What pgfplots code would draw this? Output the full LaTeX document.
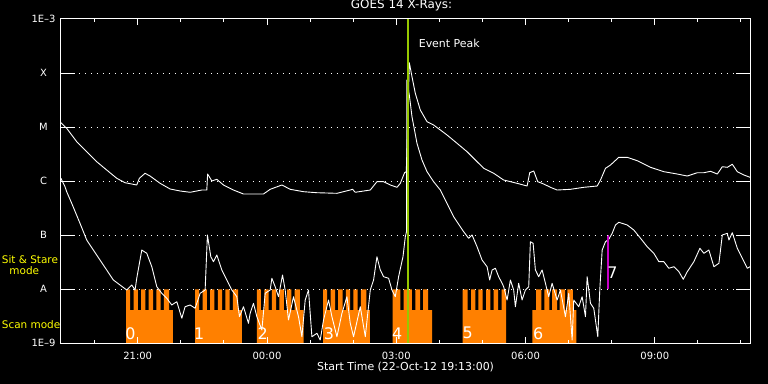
\documentclass[border=0pt]{standalone}
\usepackage{fontspec}
\setmainfont{DejaVu Sans}
\usepackage{pgfplots}
\pgfplotsset{compat=1.18}
\definecolor{scanorange}{RGB}{255,128,0}
\definecolor{peakgreen}{RGB}{150,200,0}
\definecolor{sitmag}{RGB}{200,0,200}
\definecolor{labyellow}{RGB}{255,255,0}
\begin{document}
\begin{tikzpicture}
\fill[black] (-60.9bp,-40.7bp) rectangle (707.1bp,343.3bp);
\begin{axis}[
  at={(0,0)}, anchor=south west,
  scale only axis, width=689.4bp, height=324.3bp,
  xmin=19.2167, xmax=35.2167, ymin=-9, ymax=-3,
  clip=false, axis on top,
  axis line style={white, line width=1bp},
  tick align=inside,
  tick style={white, line width=1bp},
  major tick length=14bp,
  xtick style={/pgfplots/major tick length=6bp},
  minor tick length=3.5bp,
  xtick={21,24,27,30,33},
  xticklabels={21:00,00:00,03:00,06:00,09:00},
  minor xtick={20,22,23,25,26,28,29,31,32,34,35},
  ytick={-9,-8,-7,-6,-5,-4,-3},
  yticklabels={1E--9,A,B,C,M,X,1E--3},
  xticklabel pos=bottom, yticklabel pos=left,
  tick label style={white, font=\fontsize{10}{12}\selectfont},
  xticklabel style={anchor=base, yshift=-15.7bp},
  yticklabel style={anchor=center, xshift=-17.4bp},
  ymajorgrids,
  grid style={white, line width=1bp, dash pattern=on 1bp off 5bp},
  title={GOES 14 X-Rays:},
  title style={white, font=\fontsize{12}{14}\selectfont, at={(axis description cs:0.5,1)}, anchor=base, yshift=5bp, xshift=-4bp},
  xlabel={Start Time (22-Oct-12 19:13:00)},
  xlabel style={white, font=\fontsize{11}{13}\selectfont, at={(axis description cs:0.5,0)}, anchor=base, yshift=-27.5bp},
]
% Scan mode blocks
\addplot[const plot, fill=scanorange, draw=none] coordinates {(20.729,-9)(20.729,-8)(20.822,-8.384)(20.903,-8)(21.003,-8.384)(21.077,-8)(21.177,-8.384)(21.254,-8)(21.356,-8.384)(21.430,-8)(21.530,-8.384)(21.605,-8)(21.728,-8.384)(21.814,-9)};
\addplot[const plot, fill=scanorange, draw=none] coordinates {(22.332,-9)(22.332,-8)(22.425,-8.384)(22.506,-8)(22.606,-8.384)(22.680,-8)(22.780,-8.384)(22.857,-8)(22.959,-8.384)(23.033,-8)(23.133,-8.384)(23.208,-8)(23.331,-8.384)(23.417,-9)};
\addplot[const plot, fill=scanorange, draw=none] coordinates {(23.765,-9)(23.765,-8)(23.858,-8.384)(23.939,-8)(24.039,-8.384)(24.113,-8)(24.213,-8.384)(24.290,-8)(24.392,-8.384)(24.466,-8)(24.566,-8.384)(24.641,-8)(24.764,-8.384)(24.850,-9)};
\addplot[const plot, fill=scanorange, draw=none] coordinates {(25.305,-9)(25.305,-8)(25.398,-8.384)(25.479,-8)(25.579,-8.384)(25.653,-8)(25.753,-8.384)(25.830,-8)(25.932,-8.384)(26.006,-8)(26.106,-8.384)(26.181,-8)(26.304,-8.384)(26.385,-9)};
\addplot[const plot, fill=scanorange, draw=none] coordinates {(26.915,-9)(26.915,-8)(27.094,-8.384)(27.170,-8)(27.365,-8.384)(27.442,-8)(27.551,-8.384)(27.621,-8)(27.737,-8.384)(27.830,-9)};
\addplot[const plot, fill=scanorange, draw=none] coordinates {(28.541,-9)(28.541,-8)(28.657,-8.384)(28.736,-8)(28.836,-8.384)(28.905,-8)(29.005,-8.384)(29.084,-8)(29.184,-8.384)(29.261,-8)(29.363,-8.384)(29.447,-8)(29.549,-9)};
\addplot[const plot, fill=scanorange, draw=none] coordinates {(30.160,-9)(30.160,-8.384)(30.246,-8)(30.369,-8.384)(30.438,-8)(30.555,-8.384)(30.617,-8)(30.733,-8.384)(30.794,-8)(30.920,-8.384)(30.973,-8)(31.096,-8.384)(31.182,-9)};
% Long channel (1-8 A), log10 flux
\addplot[white, line width=0.9bp, line join=round] table {
19.217 -4.919
19.351 -5.022
19.584 -5.270
19.816 -5.455
20.048 -5.640
20.280 -5.794
20.513 -5.947
20.706 -6.029
20.977 -6.071
21.038 -5.947
21.170 -5.855
21.286 -5.905
21.519 -6.040
21.751 -6.145
21.983 -6.182
22.216 -6.206
22.487 -6.164
22.603 -6.164
22.622 -5.868
22.720 -5.997
22.836 -5.966
22.989 -6.071
23.221 -6.164
23.454 -6.238
23.918 -6.238
24.074 -6.151
24.346 -6.071
24.538 -6.151
24.847 -6.195
25.159 -6.214
25.623 -6.225
25.932 -6.164
25.986 -6.151
26.048 -6.206
26.397 -6.164
26.552 -6.010
26.706 -6.010
26.861 -6.071
27.017 -6.114
27.094 -6.040
27.193 -5.844
27.233 -5.825
27.279 -4.499
27.303 -3.809
27.365 -4.068
27.442 -4.375
27.558 -4.684
27.714 -4.900
27.867 -4.961
28.178 -5.146
28.411 -5.300
28.643 -5.455
28.796 -5.577
29.029 -5.762
29.261 -5.855
29.493 -5.979
29.804 -6.040
30.037 -6.090
30.097 -5.844
30.190 -5.812
30.283 -6.010
30.422 -6.053
30.578 -6.114
30.733 -6.164
31.043 -6.151
31.352 -6.114
31.663 -6.090
31.740 -5.979
31.856 -5.762
31.972 -5.701
32.165 -5.559
32.360 -5.559
32.592 -5.622
32.901 -5.744
33.210 -5.825
33.521 -5.868
33.754 -5.905
33.986 -5.844
34.139 -5.844
34.295 -5.818
34.451 -5.868
34.567 -5.733
34.683 -5.744
34.799 -5.688
34.915 -5.825
35.068 -5.886
35.210 -5.929
};
% Short channel (0.5-4 A), log10 flux
\addplot[white, line width=0.9bp, line join=round] table {
19.217 -5.947
19.312 -6.103
19.351 -6.195
19.468 -6.410
19.660 -6.780
19.816 -7.089
19.969 -7.274
20.125 -7.459
20.280 -7.644
20.434 -7.829
20.589 -7.921
20.745 -8.014
20.861 -7.921
20.938 -8.014
20.977 -7.797
21.094 -7.274
21.210 -7.335
21.326 -7.583
21.442 -7.953
21.558 -8.075
21.674 -8.167
21.790 -8.291
21.907 -8.230
22.023 -8.537
22.099 -8.323
22.216 -8.291
22.332 -8.352
22.448 -8.075
22.564 -8.014
22.617 -6.996
22.696 -7.398
22.757 -7.490
22.836 -7.366
22.952 -7.644
23.068 -7.829
23.184 -8.014
23.300 -8.138
23.361 -8.508
23.454 -8.323
23.570 -8.630
23.609 -8.445
23.686 -8.260
23.765 -8.508
23.881 -8.754
23.958 -8.075
24.074 -8.014
24.113 -7.797
24.190 -7.953
24.267 -8.138
24.360 -7.736
24.422 -8.014
24.499 -8.569
24.615 -8.138
24.731 -8.508
24.810 -8.878
24.887 -8.199
24.963 -8.014
25.042 -8.878
25.159 -8.815
25.235 -8.939
25.312 -8.569
25.428 -8.199
25.507 -8.508
25.623 -8.878
25.739 -8.445
25.855 -8.138
25.932 -8.630
26.009 -8.878
26.165 -8.323
26.281 -8.878
26.397 -8.014
26.473 -7.829
26.552 -7.398
26.629 -7.644
26.706 -7.768
26.822 -7.797
26.901 -8.014
26.977 -8.138
27.054 -7.768
27.156 -7.398
27.210 -7.028
27.238 -6.935
27.247 -4.129
27.303 -4.406
27.365 -4.808
27.481 -5.300
27.597 -5.609
27.714 -5.825
27.867 -6.010
28.023 -6.164
28.178 -6.410
28.332 -6.658
28.564 -6.935
28.680 -7.057
28.759 -6.996
28.875 -7.213
28.991 -7.459
29.108 -7.583
29.168 -7.829
29.224 -7.644
29.300 -7.612
29.377 -7.768
29.456 -7.890
29.493 -7.953
29.572 -8.199
29.649 -7.829
29.725 -8.014
29.765 -8.323
29.841 -7.890
29.920 -8.199
29.997 -8.014
30.074 -7.953
30.113 -7.120
30.176 -7.150
30.229 -7.644
30.306 -7.768
30.385 -7.644
30.462 -7.890
30.538 -8.138
30.617 -7.890
30.733 -8.199
30.810 -8.014
30.926 -8.508
31.003 -8.075
31.082 -8.939
31.119 -8.199
31.235 -8.323
31.314 -8.138
31.391 -8.508
31.430 -7.768
31.507 -8.260
31.584 -8.352
31.677 -8.878
31.723 -8.014
31.779 -7.274
31.856 -7.120
31.932 -7.076
32.011 -6.965
32.088 -6.811
32.165 -6.761
32.360 -6.811
32.513 -6.904
32.669 -7.057
32.824 -7.213
32.978 -7.335
33.094 -7.490
33.210 -7.490
33.326 -7.612
33.442 -7.583
33.559 -7.675
33.661 -7.816
33.754 -7.675
33.907 -7.490
34.047 -7.242
34.139 -7.335
34.255 -7.274
34.372 -7.583
34.488 -7.520
34.567 -6.996
34.683 -6.965
34.720 -7.089
34.799 -6.954
34.915 -7.242
35.032 -7.427
35.148 -7.612
35.210 -7.583
};
% Sit & Stare marker and event peak
\addplot[sitmag, line width=1.5bp] coordinates {(31.909,-7) (31.909,-8)};
\addplot[peakgreen, line width=2bp] coordinates {(27.273,-9) (27.273,-3)};
% labels
\begin{scope}[every node/.style={white, inner sep=0pt, font=\fontsize{16}{16}\selectfont}]
\node at (axis cs:20.829,-8.815) {0};
\node at (axis cs:22.425,-8.815) {1};
\node at (axis cs:23.900,-8.815) {2};
\node at (axis cs:25.438,-8.815) {3};
\node at (axis cs:27.024,-8.815) {4};
\node at (axis cs:28.655,-8.815) {5};
\node at (axis cs:30.295,-8.815) {6};
\node at (axis cs:32.019,-7.700) {7};
\end{scope}
\node[white, inner sep=0pt, anchor=base west, font=\fontsize{11}{13}\selectfont] at (axis cs:27.519,-3.524) {Event Peak};
\begin{scope}[every node/.style={labyellow, inner sep=0pt, font=\fontsize{10.5}{12}\selectfont}]
\node[anchor=base west] at (axis cs:17.842,-7.520) {Sit \& Stare};
\node[anchor=base] at (axis cs:18.366,-7.736) {mode};
\node[anchor=base west] at (axis cs:17.842,-8.717) {Scan mode};
\end{scope}
\end{axis}
\pgfresetboundingbox
\useasboundingbox (-60.9bp,-40.7bp) rectangle (707.1bp,343.3bp);
\end{tikzpicture}
\end{document}
